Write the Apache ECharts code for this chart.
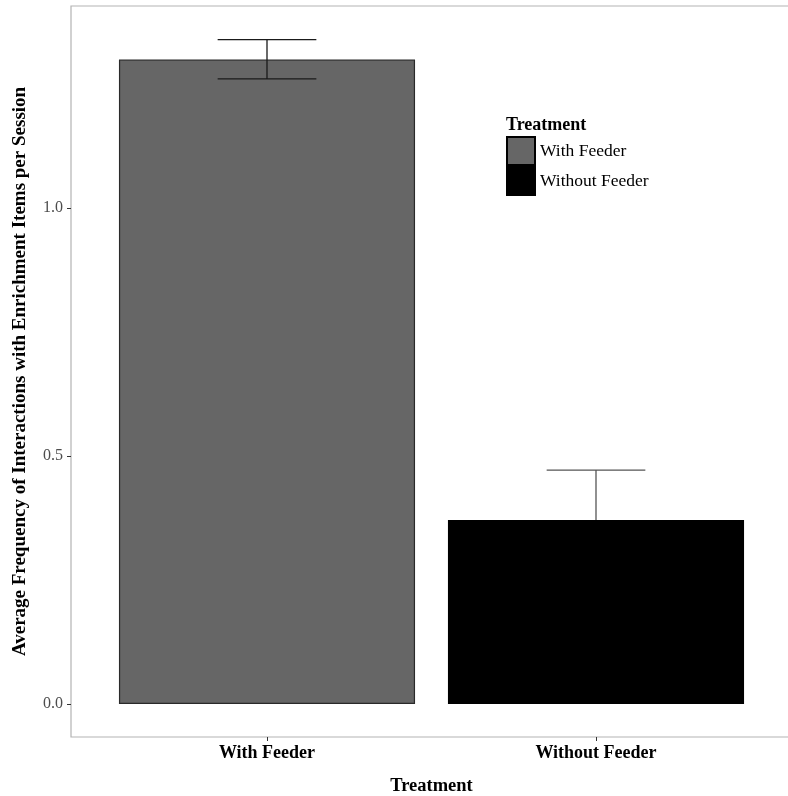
<!DOCTYPE html>
<html>
<head>
<meta charset="utf-8">
<script src="https://cdn.jsdelivr.net/npm/echarts@6/dist/echarts.min.js"></script>
<style>html,body{margin:0;padding:0;background:#fff}#c{width:788px;height:796px}</style>
</head>
<body>
<div id="c"></div>
<script>
const categories = ['With Feeder', 'Without Feeder'];
const means = [1.30, 0.371];
const errLow = [1.261, 0.270];
const errHigh = [1.340, 0.472];
const yTicks = [0, 0.5, 1.0];
const legendTitle = 'Treatment';
const xTitle = 'Treatment';
const yTitle = 'Average Frequency of Interactions with Enrichment Items per Session';
const barColors = ['#666666', '#000000'];
const barBorders = ['#2a2a2a', '#000000'];
const errColors = ['#1a1a1a', '#555555'];
const errOnTop = [true, false];

const serif = '"Liberation Serif", "DejaVu Serif", serif';
const chart = echarts.init(document.getElementById('c'), null, {renderer: 'canvas'});

const barSeries = categories.map((c, i) => ({
  type: 'bar',
  name: c,
  xAxisIndex: 0, yAxisIndex: 0,
  data: categories.map((_, j) => j === i ? means[i] : '-'),
  barWidth: '90%',
  barGap: '-100%',
  itemStyle: {color: barColors[i], borderColor: barBorders[i], borderWidth: 1.2},
  z: 2
}));

function renderErr(params, api) {
  const x = api.value(0);
  const lo = api.coord([x, api.value(1)]);
  const hi = api.coord([x, api.value(2)]);
  const half = api.size([1, 0])[0] * 0.15;
  const col = errColors[x];
  const st = {stroke: col, lineWidth: 1.3};
  return {
    type: 'group',
    children: [
      {type: 'line', shape: {x1: hi[0], y1: hi[1], x2: lo[0], y2: lo[1]}, style: st},
      {type: 'line', shape: {x1: hi[0] - half, y1: hi[1], x2: hi[0] + half, y2: hi[1]}, style: st},
      {type: 'line', shape: {x1: lo[0] - half, y1: lo[1], x2: lo[0] + half, y2: lo[1]}, style: st}
    ]
  };
}

const errSeries = categories.map((c, i) => ({
  type: 'custom',
  xAxisIndex: 0, yAxisIndex: 0,
  data: [[i, errLow[i], errHigh[i]]],
  z: errOnTop[i] ? 3 : 1,
  renderItem: renderErr
}));

chart.setOption({
  animation: false,
  backgroundColor: '#fff',
  title: {
    text: legendTitle, left: 506, top: 116, padding: 0,
    textStyle: {fontFamily: serif, fontSize: 18, fontWeight: 'bold', color: '#000'}
  },
  legend: {
    orient: 'vertical', left: 506, top: 136, padding: 0,
    itemWidth: 28, itemHeight: 28, itemGap: 0,
    icon: 'rect', selectedMode: false,
    data: categories,
    itemStyle: {borderColor: '#000', borderWidth: 2},
    textStyle: {fontFamily: serif, fontSize: 17.5, color: '#000'}
  },
  grid: [
    {left: 102.5, width: 658, top: 6, height: 731, show: false, containLabel: false, outerBoundsMode: 'none'},
    {left: 71, width: 723, top: 6, height: 731, show: true, containLabel: false, outerBoundsMode: 'none',
     borderColor: '#b3b3b3', borderWidth: 1.2, backgroundColor: 'transparent'}
  ],
  xAxis: [
    {
      type: 'category', gridIndex: 0, data: categories,
      axisLine: {show: false, onZero: false},
      axisTick: {show: true, alignWithLabel: true, length: 4, lineStyle: {color: '#333'}},
      axisLabel: {fontFamily: serif, fontSize: 18, fontWeight: 'bold', color: '#000', margin: 7},
      name: xTitle, nameLocation: 'middle', nameGap: 40,
      nameTextStyle: {fontFamily: serif, fontSize: 18.5, fontWeight: 'bold', color: '#000'}
    },
    {type: 'value', gridIndex: 1, show: false, min: 0, max: 1}
  ],
  yAxis: [
    {
      type: 'value', gridIndex: 0, min: -0.0665, max: 1.408, offset: 31.5,
      splitLine: {show: false},
      axisLine: {show: false},
      axisTick: {show: true, length: 4, customValues: yTicks, lineStyle: {color: '#333'}},
      axisLabel: {
        customValues: yTicks, fontFamily: serif, fontSize: 16, color: '#4d4d4d', margin: 8,
        formatter: v => Number(v).toFixed(1)
      },
      name: yTitle, nameLocation: 'middle', nameGap: 41,
      nameTextStyle: {fontFamily: serif, fontSize: 19, fontWeight: 'bold', color: '#000'}
    },
    {type: 'value', gridIndex: 1, show: false, min: 0, max: 1}
  ],
  series: barSeries.concat(errSeries)
});
</script>
</body>
</html>
